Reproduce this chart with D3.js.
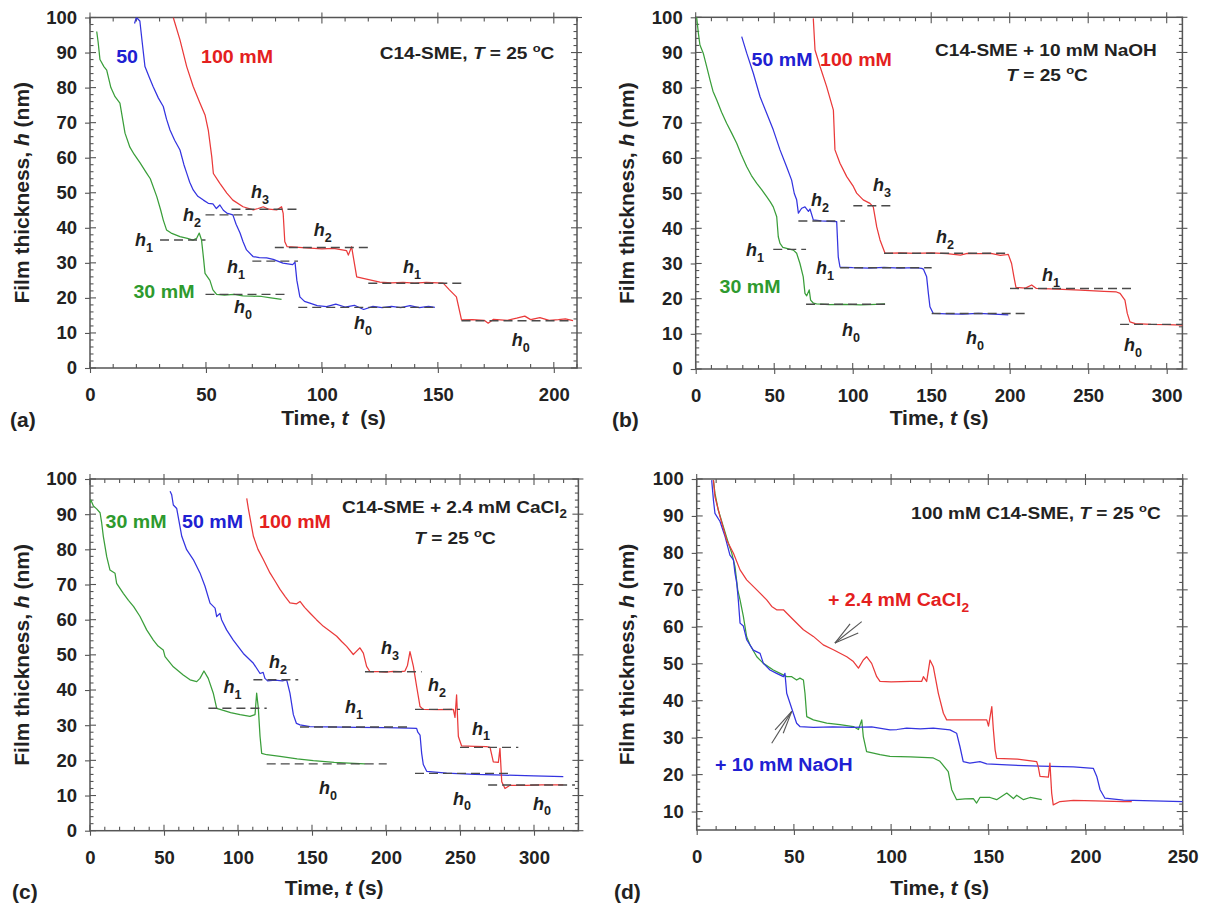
<!DOCTYPE html>
<html><head><meta charset="utf-8">
<script src="https://cdn.jsdelivr.net/npm/d3@7"></script>
<style>
body{margin:0;background:#fff;}
svg text{font-family:"Liberation Sans",Arial,Helvetica,sans-serif;font-weight:bold;}
</style></head><body>
<svg id="chart" width="1207" height="906"></svg>
<script>
// ---------------- DATA (t in s, h in nm) ----------------
const aGreen = [[2.9,96],[3.5,93],[4.3,88],[6,86],[7.2,85],[9,80],[10.8,77.4],[12.9,75.6],[15.1,67],[17.2,63],[19,61],[21.6,58.5],[24.4,55.6],[26,54],[28.8,48.9],[30.5,45],[31.6,42.2],[33,39.4],[35,38.5],[38.8,37.5],[42,37],[44.4,36.5],[46,37],[47.1,38.5],[48.1,36.5],[49,31],[49.6,27],[51.7,25],[53,22.3],[54.6,21],[58,20.8],[62,21],[66,20.6],[70,20.5],[74,20.4],[78,20],[82.6,19.6]];
const aBlue = [[19.2,98.3],[20,100],[21.5,99],[22.5,93],[23.7,86],[25.5,83],[27.2,80.3],[29.5,77],[31.6,74.6],[33,71],[34.5,67.9],[36.5,65],[38.8,62.2],[40.5,58],[41.7,55.6],[43,53],[44.5,50.8],[46.5,49],[48.9,47.9],[51,47],[53,46.8],[54.5,45.5],[56,46.5],[57.5,45],[59,44.2],[61.6,43.7],[63,41],[64.7,38.5],[66,36],[67.5,33.7],[70.3,31.8],[73,31.5],[76.2,31.4],[79,31],[83.2,29.9],[87.4,29.5],[88.4,30.2],[89.2,25],[90.5,20.3],[92.5,19],[94.8,18.5],[98,17.8],[102,17.5],[106,18.2],[110,17.4],[114,17.9],[118,16.7],[122,17.6],[126,17.2],[130,17.6],[134,17.2],[138,17.8],[142,17.2],[146,17.6],[148.7,17.3]];
const aRed = [[35.9,100],[38.8,93.6],[41.7,86],[44.5,80.3],[47.4,75.6],[49.6,72.2],[51,67.9],[52.5,60.3],[53.2,55.5],[56,52.7],[59,49.9],[61.6,47.9],[66,46],[70.4,45.1],[72.5,45.5],[74.7,46],[77,45.3],[80.5,45.1],[82.6,46],[83.3,44.1],[84,36],[85,34.6],[90,34.4],[95,34.2],[100,34],[105,34.1],[110.6,33.5],[111.4,32.2],[112.8,34.6],[115,26],[117.8,25.6],[125,24.5],[130,24.3],[135,24.4],[140,24.2],[145,24.4],[150,24.3],[152.3,24.2],[155,22.3],[158,20.3],[160.2,13.7],[165,13.8],[170,13.6],[171.7,12.8],[174,13.9],[180,13.6],[184,14.2],[187.5,14.8],[190,13.8],[194,14.4],[198,13.6],[202,13.8],[205,14],[208.3,13.5]];
// dashed levels: [t start, t end, h]
const aLevels = [[30.2,49.8,36.5],[49.8,84,21],[49.8,70,43.7],[70,89.7,30.5],[89.8,149.4,17.3],[61,90,45.3],[79.7,120,34.4],[120,160.2,24.2],[160.2,208.3,13.5]];
// step labels: [t, h, subscript]
const aSteps = [[23.3,36.5,"1"],[66,17.4,"0"],[44,43.7,"2"],[63,28.8,"1"],[117.7,12.8,"0"],[73.3,50.2,"3"],[100.4,39.4,"2"],[138.8,28.8,"1"],[185.8,8,"0"]];
const aSeriesLabels = [["50",16,88.7,"blue"],["100 mM",63.4,88.7,"red"],["30 mM",31.9,21.7,"green"]];

const bGreen = [[0.6,100],[1.7,95.5],[2.7,92.1],[4.8,89.8],[7,86],[9.1,82.2],[11,79],[13.4,76.5],[16.5,73],[19.7,69.9],[23,67],[26.1,64.2],[29,61],[32.5,57.5],[35.5,55],[38.9,52.8],[42,51],[45.2,49],[47.5,47.5],[49.4,46.1],[51.6,43.3],[52.6,37.6],[53.7,35.7],[55.5,34.6],[57.9,34.3],[62.2,33.8],[64.3,32.9],[66.4,30],[68.5,26.2],[69.6,21.5],[70.7,20.8],[72.3,22.5],[73.2,19.6],[75,18.7],[77,18.5],[85,18.3],[95,18.4],[105,18.2],[115,18.4],[120.6,18.5]];
const bBlue = [[29.3,94.5],[32.5,89.8],[36.7,84.1],[41,77.4],[45.2,72.7],[49.4,68],[53.7,62.3],[57.9,57.5],[61.1,53.7],[62.8,49.9],[64.3,48.1],[65.4,44.3],[67.5,45.7],[69.6,46.1],[71.8,44.8],[72.8,45.5],[74.9,42.4],[80,42.1],[85,42],[89.8,41.9],[90.8,31.9],[91.9,29],[100,28.8],[110,28.7],[120,28.9],[130,28.7],[140,28.8],[144,28.6],[145,28.4],[147.1,26.2],[148.2,21.5],[149.2,17.7],[151.3,15.8],[160,15.7],[170,15.6],[180,15.8],[190,15.6],[199.1,15.4]];
const bRed = [[74.9,99.7],[76,90.7],[79.2,86],[83.4,80.3],[87.7,73.6],[88.7,62.3],[91.9,58.5],[96.2,54.7],[100.4,51.9],[102.5,50],[106.7,48.1],[111,47.1],[113.1,46.1],[115.3,40.4],[117.4,36.7],[120.6,32.9],[130,33],[140,32.9],[150,33],[160,32.8],[168.7,32.4],[173,32.9],[180,32.8],[188,32.9],[194,32.3],[198,32.5],[199.1,32.6],[201.2,30],[202.7,26.2],[204,23.2],[210,23],[214,23.9],[217,22.9],[230,22.7],[245,22.4],[260,22.1],[268,21.9],[270.3,21.5],[273.4,19.6],[274.9,15.8],[276.6,13.4],[280,12.9],[290,12.7],[300,12.6],[310.6,12.5]];
const bLevels = [[49.4,70.3,34],[70.3,121.7,18.4],[65.4,95.1,42.1],[92,150.3,28.8],[150.3,210.8,15.8],[100.4,125.8,46.4],[120,199.5,32.9],[200.2,279.8,22.9],[270.3,310.6,12.7]];
const bSteps = [[37.8,33.8,"1"],[98.9,11.1,"0"],[79.2,48,"2"],[82.4,28.7,"1"],[177.9,8.8,"0"],[118.7,52.3,"3"],[158.8,37.5,"2"],[226.3,26.7,"1"],[278.6,6.8,"0"]];
const bSeriesLabels = [["50 mM",55,87.9,"blue"],["100 mM",102.1,87.9,"red"],["30 mM",34.6,23.3,"green"]];

const cGreen = [[0,93.2],[0.6,94],[2.3,92.3],[4.5,91.5],[6.8,90.4],[7.9,87.5],[9,83.7],[11.3,77.9],[13.5,74.1],[16.9,73.2],[18,70.3],[22.5,67.5],[26,65.5],[29.5,63.7],[33.8,60.9],[38.3,57.1],[42.8,54.2],[46,52.5],[49.5,51.4],[50.7,49.5],[56.3,46.6],[63,44.3],[67.6,42.9],[72.1,42.4],[74.3,43.3],[77,45.4],[79.9,43.3],[83.3,39.1],[85.6,34.8],[90.1,34.2],[95,33.6],[101.4,33],[108.1,32.5],[111.5,33],[112.6,39.1],[113.7,35],[114.9,26.8],[116,22],[119.4,21.6],[128.4,21.1],[140,20.4],[150.9,19.9],[165,19.4],[175,19.2],[185.8,19]];
const cBlue = [[54.1,96.5],[55.2,95.5],[56.3,92.6],[58.6,91.6],[62,83.7],[65.3,79.9],[69.8,77.1],[74.3,73.3],[77.7,69.5],[81.1,64.7],[84.5,63.3],[85.6,60.9],[87.8,61.8],[88.9,60],[92.3,57.1],[96.8,54.2],[103.6,50.4],[110.4,47.6],[114.9,44.7],[117,45],[118.2,43.3],[120,42.6],[125,42.8],[130,42.6],[132.9,42.9],[135.1,39.1],[137.4,33],[139.5,30.5],[141.9,30.1],[148.6,29.6],[160,29.5],[180,29.4],[200,29.3],[215,29.2],[220.7,29.1],[221.5,28],[223,27.2],[224.1,22],[225.2,18.8],[227.5,16.9],[241,16.4],[260,16],[280,15.8],[300,15.6],[319.8,15.4]];
const cRed = [[105.9,94.5],[107,91.6],[110.4,83.7],[113.5,80],[117.1,77.1],[121.6,73.3],[125,71],[128.4,68.6],[132,66.5],[135.1,64.8],[139.6,64.5],[141.9,65.2],[145,63.5],[148.6,61.9],[153,60],[157.7,58.1],[162,56.8],[166.7,55.3],[170,53.8],[173.4,52.4],[177.9,50.1],[180,51],[182.4,52],[184.7,50.5],[186.9,46.7],[189.2,45.2],[195,45.2],[200,45.1],[205,45.3],[210,45.2],[212.8,45.4],[214.5,47],[216.2,50.9],[218.5,46.7],[220.7,41],[223,35.3],[225.2,34.5],[235,34.4],[245.5,34.5],[246.6,32.2],[247.7,38.6],[248.9,26.8],[251.1,24.1],[260,24],[268,23.9],[270.3,23.7],[272.5,19.6],[275.9,19.4],[277,23.4],[278.2,13.9],[280.4,12],[283.8,12.9],[295,12.9],[305,13],[319.8,13]];
const cLevels = [[80,119.4,34.8],[119.4,200.5,19],[110.4,140.7,42.9],[141.9,217.3,29.5],[219.6,283.8,16.3],[185.8,224.1,45.2],[219.6,250,34.5],[250,289.4,23.7],[269,327.7,13]];
const cSteps = [[96.3,40.9,"1"],[160.8,12.1,"0"],[127,48,"2"],[178.4,35.3,"1"],[251.4,9.2,"0"],[202.7,51.9,"3"],[234.5,41.4,"2"],[264.2,29.1,"1"],[305.4,7.8,"0"]];
const cSeriesLabels = [["30 mM",31.1,87.9,"green"],["50 mM",82.8,87.9,"blue"],["100 mM",138.5,87.9,"red"]];

const dGreen = [[8.6,99.7],[9.4,96.1],[11.1,91.6],[13.7,87.1],[16.3,82.6],[18,80],[19.7,76.3],[21.1,70],[22.3,67.3],[24,62.8],[25.7,57.3],[27.5,55],[30.9,51.9],[34.3,50.1],[39.4,48.3],[42.9,47.4],[46.3,46.5],[48.9,46.5],[51.4,45.6],[53.1,46.1],[54.9,45.6],[55.7,42],[56.6,35.7],[60,34.8],[66.9,33.9],[73.7,33.5],[80.6,33],[83.2,32.2],[84.9,34.8],[85.7,30.3],[87.4,26.2],[90.9,25.8],[94.3,25.4],[99.4,24.9],[110,24.8],[121.7,24.5],[125.1,23.6],[129.4,20.8],[131.2,15.9],[133.7,13.2],[138,13.4],[142.3,13.5],[144,12.3],[145.7,13.8],[150.9,13.8],[154.3,13.2],[159.5,15],[162.9,13.5],[164.6,14.4],[168.1,13.2],[171.5,13.8],[177.5,13.2]];
const dBlue = [[7.7,99.7],[8.6,94.3],[9.4,90.7],[12,88.5],[14.6,84.4],[17.1,79.4],[18.9,78.1],[19.7,74.5],[20.6,71.8],[21.4,67.3],[22.3,61],[24,60.2],[25.7,56.5],[29.1,53.7],[32.6,52.8],[34.3,50.1],[37.7,48.3],[41.1,47.4],[44.6,46.5],[45.4,47.4],[46.3,42],[48,39.3],[49.7,36.6],[51.4,33.9],[53.1,33],[60,32.8],[70,32.9],[80,32.8],[90,32.9],[99.4,32.1],[103,32.2],[108,32.6],[115,32.4],[121.7,32.6],[130.3,32.1],[133.7,31.2],[135.4,27.6],[137.1,23.5],[140.5,23.1],[145.7,23.5],[149.2,22.9],[159.5,22.6],[176.6,22.3],[193.8,22.1],[204,21.7],[205.8,19.5],[207.5,15.9],[210,13.6],[219.5,13.1],[235,12.9],[250,12.7]];
const dRed = [[8.6,99.7],[9.4,95.2],[12,89.8],[15.4,83.5],[18.9,79.9],[22.3,75.4],[25.7,72.7],[30.9,70],[36,67.3],[38.6,65.5],[41.1,64.6],[44.6,64.6],[49.7,61.9],[54.9,59.2],[60,57.4],[65.1,55.1],[70.3,53.8],[77.2,51.9],[80.6,50.6],[83.2,48.8],[85.7,51],[87.4,51.9],[90,50.1],[92.6,46.5],[94.3,45.2],[100,45.1],[110,45.2],[115.7,45.2],[116.6,46.5],[118.3,45.2],[120,51],[121.7,49.2],[124.3,42],[126.9,36.6],[128.6,34.8],[140,34.8],[149.2,34.8],[150.1,33.1],[151.8,38.4],[152.6,32.2],[153.5,26.7],[154.3,24.4],[165,24.2],[174.9,23.5],[175.7,22.1],[176.6,19.5],[180.9,19.3],[181.7,23.1],[182.6,15],[183.4,11.8],[186.9,12.7],[193.8,13],[205,12.9],[219.5,12.7],[223.8,12.7]];
// arrows: tip then tails, in data units
const dArrowRed = [[71.1,55.6],[84.9,61.4],[78.9,60.8],[83.1,58.3]];
const dArrowBlue = [[48.9,37.1],[38.6,28.5],[44.5,31.2],[40.3,32.1]];

const xTicksA = [0,50,100,150,200];
const xTicksB = [0,50,100,150,200,250,300];
const xTicksC = [0,50,100,150,200,250,300];
const xTicksD = [0,50,100,150,200,250];
const yTicks = [0,10,20,30,40,50,60,70,80,90,100];
const yTicksD = [10,20,30,40,50,60,70,80,90,100];

// ---------------- STYLE ----------------
const COL = {green:"#3a9e3a", blue:"#3434e0", red:"#ea3a3a"};
const TXT = {green:"#2e9a2e", blue:"#2020d2", red:"#e42020"};
const STRETCH = 1.12;

const svg = d3.select("#chart");
svg.append("rect").attr("width",1207).attr("height",906).attr("fill","#fff");

function rich(sel, parts, size){
  let shift = 0;
  parts.forEach(p=>{
    if (typeof p === "string") p = {t:p};
    const ts = sel.append("tspan").text(p.t).style("white-space","pre");
    let target = 0;
    if (p.sup) { target = -size*0.42; ts.attr("font-size", size*0.68); }
    if (p.sub) { target = size*0.32; ts.attr("font-size", size*0.7); }
    if (p.i) ts.attr("font-style","italic");
    if (target !== shift) { ts.attr("dy", target - shift); shift = target; }
  });
}
function stretch(t, f){
  const w = t.node().getComputedTextLength();
  t.attr("textLength", w*f).attr("lengthAdjust","spacingAndGlyphs");
}

function panel(cfg){
  const x = d3.scaleLinear().domain(cfg.xd).range([cfg.l, cfg.r]);
  const y = d3.scaleLinear().domain(cfg.yd).range([cfg.b, cfg.t]);
  const g = svg.append("g");
  const clipId = "clip"+cfg.id;
  svg.append("clipPath").attr("id",clipId).append("rect")
    .attr("x",cfg.l).attr("y",cfg.t).attr("width",cfg.r-cfg.l).attr("height",cfg.b-cfg.t);

  const axCol = "#555";
  const xMinor = d3.range(cfg.xd[0], cfg.xd[1]+0.001, 10).filter(v=>v%50!==0);
  const yMinor = d3.range(Math.ceil(cfg.yd[0]/2)*2, cfg.yd[1]+0.001, 2).filter(v=>v%10!==0);
  const tg = g.append("g").attr("stroke",axCol).attr("stroke-width",1.1);
  xMinor.forEach(v=>{
    tg.append("line").attr("x1",x(v)).attr("x2",x(v)).attr("y1",cfg.b).attr("y2",cfg.b-4);
    tg.append("line").attr("x1",x(v)).attr("x2",x(v)).attr("y1",cfg.t).attr("y2",cfg.t+4);
  });
  yMinor.forEach(v=>{
    tg.append("line").attr("x1",cfg.l).attr("x2",cfg.l+3.5).attr("y1",y(v)).attr("y2",y(v));
    tg.append("line").attr("x1",cfg.r).attr("x2",cfg.r-3.5).attr("y1",y(v)).attr("y2",y(v));
  });
  cfg.xt.forEach(v=>{
    tg.append("line").attr("x1",x(v)).attr("x2",x(v)).attr("y1",cfg.b).attr("y2",cfg.b-6);
    tg.append("line").attr("x1",x(v)).attr("x2",x(v)).attr("y1",cfg.t-5).attr("y2",cfg.t+6);
  });
  cfg.yt.forEach(v=>{
    tg.append("line").attr("x1",cfg.l).attr("x2",cfg.l+6).attr("y1",y(v)).attr("y2",y(v));
    tg.append("line").attr("x1",cfg.r-6).attr("x2",cfg.r+5).attr("y1",y(v)).attr("y2",y(v));
  });

  const xa = g.append("g").attr("transform",`translate(0,${cfg.b})`)
    .call(d3.axisBottom(x).tickValues(cfg.xt).tickSize(5).tickPadding(15).tickFormat(d3.format("d")));
  const ya = g.append("g").attr("transform",`translate(${cfg.l},0)`)
    .call(d3.axisLeft(y).tickValues(cfg.yt).tickSize(5).tickPadding(8).tickFormat(d3.format("d")));
  [xa,ya].forEach(a=>{
    a.select(".domain").remove();
    a.selectAll(".tick line").attr("stroke",axCol).attr("stroke-width",1.1);
    a.selectAll(".tick text").attr("font-size",18.5).attr("fill","#222")
      .attr("font-family","'Liberation Sans',Arial,sans-serif").attr("font-weight","bold");
  });
  g.append("rect").attr("x",cfg.l).attr("y",cfg.t).attr("width",cfg.r-cfg.l).attr("height",cfg.b-cfg.t)
    .attr("fill","none").attr("stroke",axCol).attr("stroke-width",1.5);

  const line = d3.line().x(d=>x(d[0])).y(d=>y(d[1]));
  const dg = g.append("g").attr("clip-path",`url(#${clipId})`);
  cfg.series.forEach(s=>{
    dg.append("path").datum(s.data).attr("d",line).attr("fill","none")
      .attr("stroke",COL[s.c]).attr("stroke-width",1.25).attr("stroke-linejoin","round");
  });
  (cfg.levels||[]).forEach(L=>{
    dg.append("line").attr("x1",x(L[0])).attr("x2",x(L[1])).attr("y1",y(L[2])).attr("y2",y(L[2]))
      .attr("stroke","#4a4a4a").attr("stroke-width",1.4).attr("stroke-dasharray","9,5");
  });
  (cfg.steps||[]).forEach(s=>{
    const t = g.append("text").attr("x",x(s[0])).attr("y",y(s[1])).attr("dy","0.35em")
      .attr("text-anchor","middle").attr("font-size",18).attr("fill","#222");
    rich(t, [{t:"h",i:true},{t:s[2],sub:true}], 18);
  });
  (cfg.slabels||[]).forEach(s=>{
    const t = g.append("text").attr("x",x(s[1])).attr("y",y(s[2])).attr("dy","0.35em")
      .attr("text-anchor","middle").attr("font-size",17.5).attr("fill",TXT[s[3]]).text(s[0]);
    stretch(t, STRETCH);
  });
  (cfg.notes||[]).forEach(n=>{
    const t = g.append("text").attr("x",x(n.x)).attr("y",y(n.y)).attr("dy","0.35em")
      .attr("text-anchor",n.anchor||"middle").attr("font-size",n.size||17).attr("fill",n.color||"#222");
    rich(t, n.parts, n.size||17);
    stretch(t, STRETCH);
  });
  (cfg.arrows||[]).forEach(a=>{
    const tip = a[0];
    a.slice(1).forEach(p=>{
      g.append("line").attr("x1",x(tip[0])).attr("y1",y(tip[1])).attr("x2",x(p[0])).attr("y2",y(p[1]))
        .attr("stroke","#555").attr("stroke-width",1.1);
    });
  });
  const cx = (cfg.l+cfg.r)/2, cy=(cfg.t+cfg.b)/2;
  const xt = g.append("text").attr("x",cx).attr("y",cfg.titleY).attr("text-anchor","middle")
    .attr("font-size",21).attr("fill","#222");
  rich(xt, ["Time, ",{t:"t",i:true},cfg.id==="a"?"  (s)":" (s)"], 21);
  const yt = g.append("text").attr("transform",`translate(${cfg.ytx},${cy}) rotate(-90)`)
    .attr("text-anchor","middle").attr("dy","0.35em").attr("font-size",21).attr("fill","#222");
  rich(yt, ["Film thickness, ",{t:"h",i:true}," (nm)"], 21);
  g.append("text").attr("x",cfg.plx).attr("y",cfg.ply).attr("font-size",21).attr("fill","#222").text(`(${cfg.id})`);
}

const degC = [" = 25 ",{t:"o",sup:true},"C"];

panel({id:"a", l:90, r:577, t:17.5, b:368, xd:[0,210], yd:[0,100], xt:xTicksA, yt:yTicks,
  series:[{data:aGreen,c:"green"},{data:aBlue,c:"blue"},{data:aRed,c:"red"}],
  levels:aLevels, steps:aSteps, slabels:aSeriesLabels,
  notes:[{x:162.6,y:89.9,parts:["C14-SME, ",{t:"T",i:true}].concat(degC)}],
  titleY:425, ytx:22, plx:10, ply:427});

panel({id:"b", l:695.7, r:1182.4, t:17.3, b:369, xd:[0,310], yd:[0,100], xt:xTicksB, yt:yTicks,
  series:[{data:bGreen,c:"green"},{data:bBlue,c:"blue"},{data:bRed,c:"red"}],
  levels:bLevels, steps:bSteps, slabels:bSeriesLabels,
  notes:[{x:223.1,y:90.7,parts:["C14-SME + 10 mM NaOH"]},{x:223.8,y:83.6,parts:[{t:"T",i:true}].concat(degC)}],
  titleY:425, ytx:627, plx:612, ply:427});

panel({id:"c", l:90, r:578.4, t:479, b:830.7, xd:[0,330], yd:[0,100], xt:xTicksC, yt:yTicks,
  series:[{data:cGreen,c:"green"},{data:cBlue,c:"blue"},{data:cRed,c:"red"}],
  levels:cLevels, steps:cSteps, slabels:cSeriesLabels,
  notes:[{x:246.3,y:92.1,parts:["C14-SME + 2.4 mM CaCl",{t:"2",sub:true}]},{x:246.6,y:83.2,parts:[{t:"T",i:true}].concat(degC)}],
  titleY:895, ytx:22, plx:12, ply:899});

panel({id:"d", l:696.7, r:1182.7, t:479, b:830, xd:[0,250], yd:[5,100], xt:xTicksD, yt:yTicksD,
  series:[{data:dGreen,c:"green"},{data:dBlue,c:"blue"},{data:dRed,c:"red"}],
  notes:[{x:174.5,y:90.7,parts:["100 mM C14-SME, ",{t:"T",i:true}].concat(degC)},
         {x:67.5,y:67.3,anchor:"start",size:17.5,color:TXT.red,parts:["+ 2.4 mM CaCl",{t:"2",sub:true}]},
         {x:9.4,y:22.6,anchor:"start",size:17.5,color:TXT.blue,parts:["+ 10 mM NaOH"]}],
  arrows:[dArrowRed,dArrowBlue],
  titleY:895, ytx:627, plx:614, ply:899});
</script>
</body></html>
